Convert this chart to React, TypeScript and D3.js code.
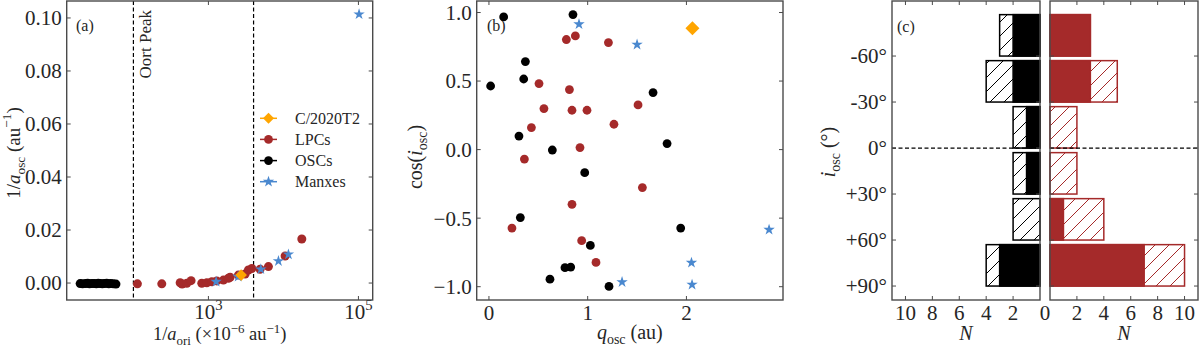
import React, { useEffect, useRef } from 'react'
import * as d3 from 'd3'

// (a) 1/a_ori (1e-6 au^-1) vs 1/a_osc (au^-1)
const oscAori = [19.5, 21, 23, 24.5, 26, 28, 30, 32, 34, 36, 38.5, 41, 44, 47, 50, 54, 58.5]
const oscAosc = [-0.0002, -0.0003, -0.0002, -0.0001, -0.0003, -0.0002, -0.0002, -0.0003, -0.0001, -0.0002, -0.0003, -0.0002, -0.0001, -0.0003, -0.0002, -0.0003, -0.0004]
const lpcAori = [113, 239, 420, 446, 515, 587, 816, 952, 1110, 1294, 1585, 1848, 1946, 2512, 3086, 3415, 3790, 4888, 6310, 10540, 17580]
const lpcAosc = [-0.0003, -0.0003, 0.0001, -0.0004, -0.0001, 0.0009, -0.0001, 0.0001, 0.0005, 0.0008, 0.0011, 0.0018, 0.0022, 0.0030, 0.0034, 0.0049, 0.0055, 0.0052, 0.0062, 0.0102, 0.0166]
const manxAori = [1267, 2490, 5000, 8580, 11660, 102000]
const manxAosc = [0.0005, 0.0024, 0.0052, 0.0083, 0.0108, 0.1014]
const t2Aori = [2730]
const t2Aosc = [0.003]
const oortPeak = [100, 4000]

// (b) q_osc (au) vs cos(i_osc)
const oscQ = [0.149, 0.851, 0.369, 0.352, 0.017, 1.662, 0.304, 0.642, 1.804, 0.970, 0.318, 1.942, 1.027, 0.770, 0.828, 0.618, 1.216]
const oscCos = [0.968, 0.985, 0.642, 0.515, 0.464, 0.416, 0.099, -0.003, 0.044, -0.168, -0.496, -0.572, -0.699, -0.861, -0.857, -0.945, -0.998]
const lpcQ = [0.784, 0.875, 1.210, 0.507, 0.815, 0.557, 0.841, 0.993, 1.510, 0.430, 1.266, 0.922, 0.359, 1.554, 0.841, 0.233, 0.939, 1.084]
const lpcCos = [0.803, 0.829, 0.781, 0.482, 0.438, 0.299, 0.287, 0.287, 0.326, 0.161, 0.185, 0.015, -0.069, -0.277, -0.399, -0.572, -0.664, -0.823]
const manxQ = [0.912, 1.5, 1.348, 2.051, 2.057, 2.837]
const manxCos = [0.915, 0.766, -0.966, -0.825, -0.985, -0.584]
const t2Q = [2.061]
const t2Cos = [0.885]

// (c) inclination histograms, solid part + hatched part
const binEdges = [-90, -60, -30, 0, 30, 60, 90]
const incTicks = [-60, -30, 0, 30, 60, 90]
const incLabels = ['-60°', '-30°', '0°', '+30°', '+60°', '+90°']
const oscSolid = [2, 2, 1, 1, 0, 3]
const oscTotal = [3, 4, 2, 2, 2, 4]
const lpcSolid = [3, 3, 0, 0, 1, 7]
const lpcTotal = [3, 5, 2, 2, 4, 10]
const countTicks = [2, 4, 6, 8, 10]

const BROWN = '#a52a2a'
const BLUE = '#4a88cf'
const ORANGE = '#ffa500'
const INK = '#262626'
const FRAME = '#4a4a4a'
const FONT = '"Liberation Serif", "DejaVu Serif", serif'

type Part = [string, string?]

// text with italic / sub / sup pieces
const rich = (sel: any, parts: Part[], fs: number, supUp = 0.45) => {
  let off = 0
  parts.forEach(([t, k]) => {
    const ts = sel.append('tspan').text(t)
    let target = 0
    if (k === 'sub') target = 0.25 * fs
    if (k === 'sup') target = -supUp * fs
    ts.attr('dy', target - off)
    off = target
    if (k === 'sub' || k === 'sup') ts.attr('font-size', fs * 0.7)
    if (k === 'i') ts.attr('font-style', 'italic')
  })
}

export default function App() {
  const ref = useRef<SVGSVGElement>(null)

  useEffect(() => {
    const svg = d3.select(ref.current)
    svg.selectAll('*').remove()
    svg.attr('font-family', FONT).attr('fill', INK)

    const defs = svg.append('defs')
    const hatch = (id: string, col: string) => {
      defs.append('pattern')
        .attr('id', id)
        .attr('patternUnits', 'userSpaceOnUse')
        .attr('width', 14).attr('height', 14)
        .append('path')
        .attr('d', 'M0,14 L14,0 M-3.5,3.5 L3.5,-3.5 M10.5,17.5 L17.5,10.5')
        .attr('stroke', col).attr('stroke-width', 1).attr('fill', 'none')
    }
    hatch('hatchK', '#000')
    hatch('hatchR', BROWN)

    const frame = (x0: number, x1: number, y0: number, y1: number) => {
      svg.append('rect')
        .attr('x', x0).attr('y', y0).attr('width', x1 - x0).attr('height', y1 - y0)
        .attr('fill', 'none').attr('stroke', FRAME).attr('stroke-width', 1.4)
    }
    const ticksX = (xs: number[], y0: number, y1: number) => {
      xs.forEach((x) => {
        svg.append('line').attr('x1', x).attr('x2', x).attr('y1', y1).attr('y2', y1 - 4).attr('stroke', FRAME).attr('stroke-width', 1)
        svg.append('line').attr('x1', x).attr('x2', x).attr('y1', y0).attr('y2', y0 + 4).attr('stroke', FRAME).attr('stroke-width', 1)
      })
    }
    const ticksY = (ys: number[], x0: number, x1: number) => {
      ys.forEach((y) => {
        svg.append('line').attr('y1', y).attr('y2', y).attr('x1', x0).attr('x2', x0 + 4).attr('stroke', FRAME).attr('stroke-width', 1)
        svg.append('line').attr('y1', y).attr('y2', y).attr('x1', x1).attr('x2', x1 - 4).attr('stroke', FRAME).attr('stroke-width', 1)
      })
    }
    const label = (x: number, y: number, t: string, fs: number, anchor = 'middle') => {
      svg.append('text').attr('x', x).attr('y', y).attr('font-size', fs)
        .attr('text-anchor', anchor).text(t)
    }
    const vLabel = (x: number, y: number, parts: Part[], fs: number) => {
      const t = svg.append('text').attr('transform', `translate(${x},${y}) rotate(-90)`)
        .attr('font-size', fs).attr('text-anchor', 'middle')
      rich(t, parts, fs)
    }
    const hLabel = (x: number, y: number, parts: Part[], fs: number) => {
      const t = svg.append('text').attr('x', x).attr('y', y)
        .attr('font-size', fs).attr('text-anchor', 'middle')
      rich(t, parts, fs, 0.38)
    }
    const star = (r: number) => d3.symbol(d3.symbolStar, (r * r) / 0.8908)()
    const diamond = (h: number) => d3.symbol(d3.symbolSquare, 2 * h * h)()

    const dots = (xs: number[], ys: number[], sx: any, sy: any, col: string, r: number) => {
      xs.forEach((v, i) => {
        svg.append('circle').attr('cx', sx(v)).attr('cy', sy(ys[i])).attr('r', r).attr('fill', col)
      })
    }
    const stars = (xs: number[], ys: number[], sx: any, sy: any, r: number) => {
      xs.forEach((v, i) => {
        svg.append('path').attr('d', star(r)).attr('fill', BLUE)
          .attr('transform', `translate(${sx(v)},${sy(ys[i])})`)
      })
    }
    const diamonds = (xs: number[], ys: number[], sx: any, sy: any, h: number) => {
      xs.forEach((v, i) => {
        svg.append('path').attr('d', diamond(h)).attr('fill', ORANGE)
          .attr('transform', `translate(${sx(v)},${sy(ys[i])}) rotate(45)`)
      })
    }

    // ---------- panel (a)
    const ax0 = 66.7, ax1 = 372.7, top = 1, bot = 300
    const xA = d3.scaleLog().domain([12.9, 155000]).range([ax0, ax1])
    const yA = d3.scaleLinear().domain([-0.0064, 0.1064]).range([bot, top])

    oortPeak.forEach((v) => {
      svg.append('line').attr('x1', xA(v)).attr('x2', xA(v)).attr('y1', top).attr('y2', bot)
        .attr('stroke', '#000').attr('stroke-width', 1.2).attr('stroke-dasharray', '4,2.5')
    })
    svg.append('text').attr('transform', `translate(${xA(oortPeak[0]) + 18},10) rotate(-90)`)
      .attr('font-size', 17).attr('text-anchor', 'end').text('Oort Peak')

    dots(lpcAori, lpcAosc, xA, yA, BROWN, 4.5)
    dots(oscAori, oscAosc, xA, yA, '#000', 4.5)
    stars(manxAori, manxAosc, xA, yA, 6)
    diamonds(t2Aori, t2Aosc, xA, yA, 5.8)

    const yTicksA = [0, 0.02, 0.04, 0.06, 0.08, 0.1]
    ticksY(yTicksA.map(yA), ax0, ax1)
    ticksX([1e3, 1e5].map(xA), top, bot)
    yTicksA.forEach((v) => {
      svg.append('text').attr('x', ax0 - 5).attr('y', yA(v)).attr('dy', '0.35em')
        .attr('font-size', 21).attr('text-anchor', 'end').text(d3.format('.2f')(v))
    })
    ;[[1e3, '3'], [1e5, '5']].forEach(([v, e]) => {
      const t = svg.append('text').attr('x', xA(v as number)).attr('y', 319)
        .attr('font-size', 21).attr('text-anchor', 'middle')
      rich(t, [['10'], [e as string, 'sup']], 21)
    })
    frame(ax0, ax1, top, bot)
    label(76, 31, '(a)', 16, 'start')
    vLabel(20, 153, [['1/'], ['a', 'i'], ['osc', 'sub'], [' (au'], ['−1', 'sup'], [')']], 19)
    hLabel((ax0 + ax1) / 2, 340, [['1/'], ['a', 'i'], ['ori', 'sub'], [' (×10'], ['−6', 'sup'], [' au'], ['−1', 'sup'], [')']], 18.5)

    // legend
    const legY = [118.3, 139.4, 160.6, 181.7]
    const legNames = ['C/2020T2', 'LPCs', 'OSCs', 'Manxes']
    const legCols = [ORANGE, BROWN, '#000', BLUE]
    legNames.forEach((n, i) => {
      const y = legY[i]
      svg.append('line').attr('x1', 260).attr('x2', 277).attr('y1', y).attr('y2', y)
        .attr('stroke', legCols[i]).attr('stroke-width', 1.5)
      if (i === 0) svg.append('path').attr('d', diamond(5.5)).attr('fill', ORANGE).attr('transform', `translate(268.5,${y}) rotate(45)`)
      else if (i === 3) svg.append('path').attr('d', star(6)).attr('fill', BLUE).attr('transform', `translate(268.5,${y})`)
      else svg.append('circle').attr('cx', 268.5).attr('cy', y).attr('r', 4.4).attr('fill', legCols[i])
      svg.append('text').attr('x', 295).attr('y', y).attr('dy', '0.35em').attr('font-size', 16).text(n)
    })

    // ---------- panel (b)
    const bx0 = 476.7, bx1 = 783
    const xB = d3.scaleLinear().domain([-0.124, 2.978]).range([bx0, bx1])
    const yB = d3.scaleLinear().domain([-1.097, 1.084]).range([bot, top])
    label(487, 31, '(b)', 16, 'start')
    dots(oscQ, oscCos, xB, yB, '#000', 4.4)
    dots(lpcQ, lpcCos, xB, yB, BROWN, 4.4)
    stars(manxQ, manxCos, xB, yB, 6)
    diamonds(t2Q, t2Cos, xB, yB, 7)
    const yTicksB = [-1, -0.5, 0, 0.5, 1]
    ticksY(yTicksB.map(yB), bx0, bx1)
    ticksX([0, 1, 2].map(xB), top, bot)
    yTicksB.forEach((v) => {
      svg.append('text').attr('x', bx0 - 5).attr('y', yB(v)).attr('dy', '0.35em')
        .attr('font-size', 21).attr('text-anchor', 'end').text(d3.format('.1f')(v))
    })
    ;[0, 1, 2].forEach((v) => label(xB(v), 320, String(v), 21))
    frame(bx0, bx1, top, bot)
    vLabel(422, 157, [['cos('], ['i', 'i'], ['osc', 'sub'], [')']], 20)
    hLabel((bx0 + bx1) / 2, 339, [['q', 'i'], ['osc', 'sub'], [' (au)']], 20)

    // ---------- panel (c)
    const cl0 = 892, cl1 = 1040, cr0 = 1050, cr1 = 1198
    const xL = d3.scaleLinear().domain([0, 11]).range([cl1, cl0])
    const xR = d3.scaleLinear().domain([0, 11]).range([cr0, cr1])
    const yC = d3.scaleLinear().domain([-95.9, 99.1]).range([top, bot])

    const bars = (sx: any, solid: number[], total: number[], col: string, pat: string) => {
      total.forEach((n, i) => {
        const y0 = yC(binEdges[i] + 3), y1 = yC(binEdges[i + 1])
        const xa = Math.min(sx(0), sx(n)), xb = Math.max(sx(0), sx(n))
        svg.append('rect').attr('x', xa).attr('y', y0).attr('width', xb - xa).attr('height', y1 - y0)
          .attr('fill', '#fff')
        svg.append('rect').attr('x', xa).attr('y', y0).attr('width', xb - xa).attr('height', y1 - y0)
          .attr('fill', `url(#${pat})`).attr('stroke', col).attr('stroke-width', 1.5)
        if (solid[i] > 0) {
          const sa = Math.min(sx(0), sx(solid[i])), sb = Math.max(sx(0), sx(solid[i]))
          svg.append('rect').attr('x', sa).attr('y', y0).attr('width', sb - sa).attr('height', y1 - y0)
            .attr('fill', col).attr('stroke', col).attr('stroke-width', 1.5)
        }
      })
    }
    bars(xL, oscSolid, oscTotal, '#000', 'hatchK')
    bars(xR, lpcSolid, lpcTotal, BROWN, 'hatchR')

    ;[[cl0, cl1], [cr0, cr1]].forEach(([a, b]) => {
      svg.append('line').attr('x1', a).attr('x2', b).attr('y1', yC(0)).attr('y2', yC(0))
        .attr('stroke', '#000').attr('stroke-width', 1.2).attr('stroke-dasharray', '4,2.5')
      ticksY(incTicks.map(yC), a, b)
      frame(a, b, top, bot)
    })
    ticksX(countTicks.map(xL), top, bot)
    ticksX(countTicks.map(xR), top, bot)
    countTicks.forEach((v) => {
      label(xL(v), 320, String(v), 21)
      label(xR(v), 320, String(v), 21)
    })
    label((cl1 + cr0) / 2, 320, '0', 21)
    incTicks.forEach((v, i) => {
      svg.append('text').attr('x', cl0 - 5).attr('y', yC(v)).attr('dy', '0.35em')
        .attr('font-size', 21).attr('text-anchor', 'end').text(incLabels[i])
    })
    label(897, 32, '(c)', 16, 'start')
    vLabel(835, 152, [['i', 'i'], ['osc', 'sub'], [' (°)']], 20)
    hLabel((cl0 + cl1) / 2, 340, [['N', 'i']], 20)
    hLabel((cr0 + cr1) / 2, 340, [['N', 'i']], 20)
  }, [])

  return (
    <svg ref={ref} width={1200} height={349}
      style={{ position: 'absolute', left: 0, top: 0, background: '#fff' }} />
  )
}
